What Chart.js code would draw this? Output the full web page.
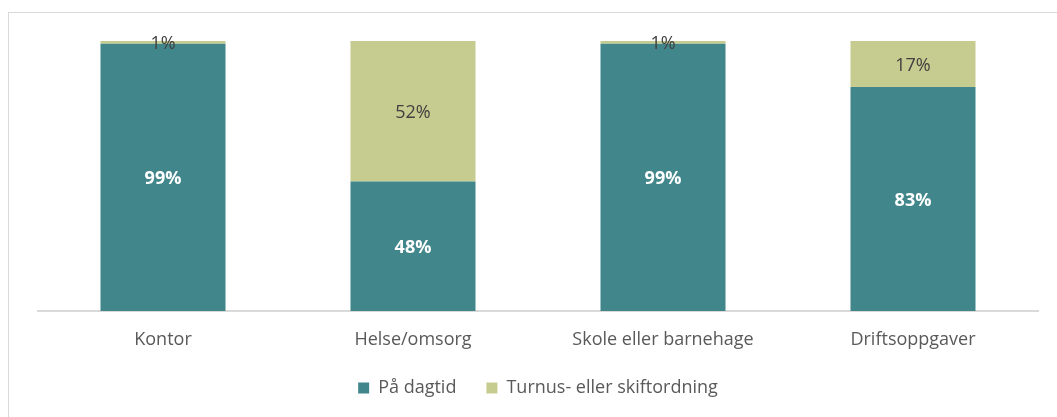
<!DOCTYPE html>
<html>
<head>
<meta charset="utf-8">
<script src="https://cdn.jsdelivr.net/npm/chart.js@4/dist/chart.umd.min.js"></script>
<style>
    html, body { margin: 0; padding: 0; background: #fff; }
    #frame {
        position: absolute; left: 8px; top: 12px; width: 1060px; height: 420px;
        border-left: 1px solid #d9d9d9; border-top: 1px solid #d9d9d9;
    }
    #wrap { position: absolute; left: 0; top: 0; width: 1057px; height: 417px; }
</style>
</head>
<body>
<div id="frame"></div>
<div id="wrap"><canvas id="shiftChart"></canvas></div>
<script>
// Categories and series (percent)
const categories = ['Kontor', 'Helse/omsorg', 'Skole eller barnehage', 'Driftsoppgaver'];
const dagtid = [99, 48, 99, 83];
const turnus = [1, 52, 1, 17];
const seriesNames = ['På dagtid', 'Turnus- eller skiftordning'];

const fontFamily = "'Open Sans', 'Noto Sans', sans-serif";
const fontSize = 18;

// Draw the percentage labels in the middle of each bar segment
const segmentLabels = {
    id: 'segmentLabels',
    afterDatasetsDraw(chart) {
        const c = chart.ctx;
        c.save();
        c.textAlign = 'center';
        c.textBaseline = 'middle';
        chart.data.datasets.forEach((ds, i) => {
            const meta = chart.getDatasetMeta(i);
            meta.data.forEach((bar, j) => {
                const mid = (bar.y + bar.base) / 2;
                if (i === 0) {
                    c.fillStyle = '#ffffff';
                    c.font = 'bold ' + fontSize + 'px ' + fontFamily;
                } else {
                    c.fillStyle = '#404040';
                    c.font = fontSize + 'px ' + fontFamily;
                }
                c.fillText(ds.data[j] + '%', bar.x, mid + 2);
            });
        });
        c.restore();
    }
};

const ctx = document.getElementById('shiftChart').getContext('2d');
new Chart(ctx, {
    type: 'bar',
    data: {
        labels: categories,
        datasets: [
            { label: seriesNames[0], data: dagtid, backgroundColor: '#41868b' },
            { label: seriesNames[1], data: turnus, backgroundColor: '#c6cc8f' },
        ],
    },
    options: {
        responsive: true,
        maintainAspectRatio: false,
        animation: false,
        categoryPercentage: 1,
        barPercentage: 0.5,
        layout: { padding: { left: 38, right: 19, top: 41, bottom: 10 } },
        plugins: {
            legend: {
                position: 'bottom',
                labels: {
                    boxWidth: 11,
                    boxHeight: 11,
                    padding: 30,
                    color: '#595959',
                    font: { family: fontFamily, size: fontSize },
                },
            },
            tooltip: { enabled: false },
        },
        scales: {
            x: {
                stacked: true,
                grid: { display: false },
                border: { color: '#d9d9d9', width: 2 },
                ticks: {
                    color: '#595959',
                    padding: 10,
                    font: { family: fontFamily, size: fontSize },
                },
                afterFit: scale => { scale.height = 38; },
            },
            y: {
                stacked: true,
                display: false,
                min: 0,
                max: 100,
            },
        },
    },
    plugins: [segmentLabels],
});
</script>
</body>
</html>
